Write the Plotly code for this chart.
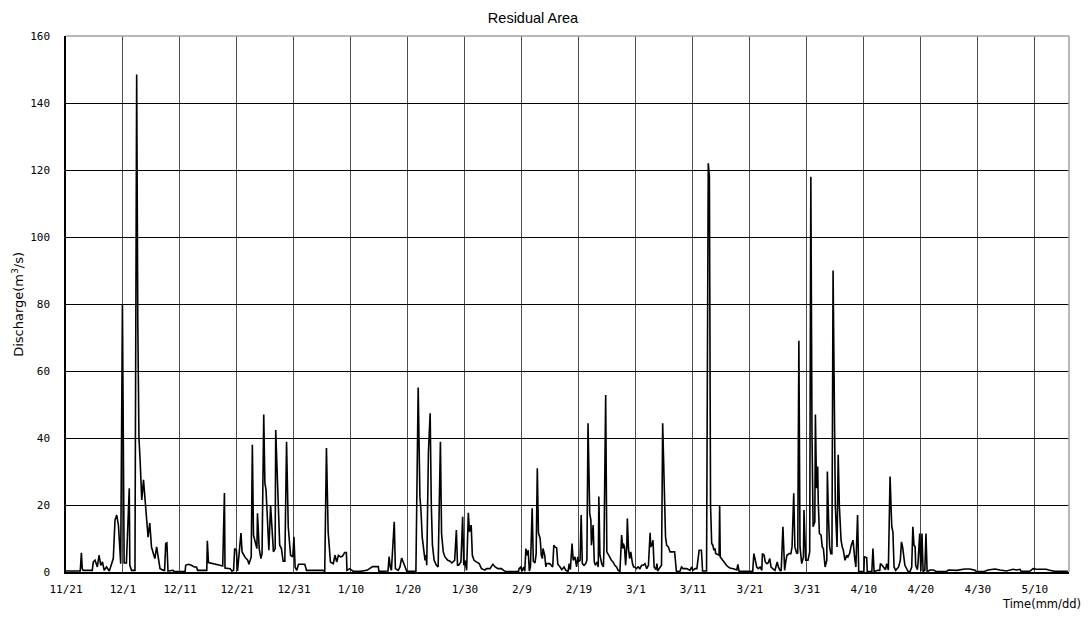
import pandas as pd
import plotly.graph_objects as go

# Hourly-resolution discharge record, given as elapsed days since the start date
start_date = "2010-11-21"

elapsed_days = [
    0.0, 2.5, 2.7, 2.85, 3.0, 4.6, 4.8, 5.1, 5.5, 5.8, 6.1, 6.4, 6.7, 7.1, 7.6, 8.0, 8.3,
    8.6, 8.9, 9.2, 9.4, 9.6, 9.9, 10.2, 10.6, 11.1, 11.2, 11.5, 12.1, 12.4, 12.6, 12.8,
    13.0, 13.3, 13.6, 13.9, 14.2, 14.4, 14.7, 15.0, 15.3, 15.6, 15.9, 16.2, 16.5, 17.1,
    17.3, 17.5, 17.7, 17.9, 18.8, 19.0, 20.9, 21.0, 21.5, 22.0, 22.5, 22.9, 23.1, 24.7,
    24.8, 25.0, 26.0, 27.0, 27.5, 27.8, 27.9, 28.8, 29.1, 29.4, 29.6, 29.9, 30.1, 30.4,
    30.7, 30.9, 31.4, 31.9, 32.1, 32.5, 32.7, 32.9, 33.2, 33.5, 33.6, 33.9, 34.2, 34.4,
    34.7, 34.9, 35.1, 35.4, 35.6, 35.9, 36.1, 36.4, 36.7, 36.8, 37.1, 37.3, 37.5, 37.8,
    38.1, 38.4, 38.7, 39.0, 39.2, 39.4, 39.8, 40.0, 40.2, 40.5, 40.8, 41.9, 42.2, 45.1,
    45.4, 45.7, 46.0, 46.1, 46.4, 46.9, 47.2, 47.5, 47.8, 48.2, 48.5, 48.9, 49.2, 49.3,
    49.8, 50.4, 51.6, 52.8, 53.3, 53.8, 54.8, 54.9, 56.5, 56.7, 56.9, 57.1, 57.6, 57.8,
    58.3, 58.6, 58.9, 59.2, 59.5, 59.8, 61.4, 61.8, 62.1, 62.3, 62.5, 62.8, 63.0, 63.2,
    63.3, 63.6, 63.9, 64.1, 64.3, 64.6, 65.0, 65.3, 65.7, 65.9, 66.2, 66.5, 67.0, 67.4,
    67.7, 68.2, 68.5, 68.7, 68.9, 69.3, 69.6, 69.8, 70.0, 70.3, 70.6, 70.8, 71.1, 71.3,
    71.6, 72.0, 72.5, 72.9, 73.5, 73.8, 74.4, 74.9, 75.3, 75.8, 76.4, 76.8, 77.2, 79.4,
    79.5, 79.8, 80.0, 80.3, 80.5, 80.7, 80.9, 81.1, 81.3, 81.5, 81.8, 82.0, 82.3, 82.5,
    82.7, 82.9, 83.2, 83.4, 83.6, 83.7, 84.0, 84.2, 84.3, 84.9, 85.4, 85.6, 85.8, 86.1,
    86.3, 86.7, 87.0, 87.4, 87.7, 88.1, 88.3, 88.5, 88.8, 89.0, 89.3, 89.6, 89.8, 89.9,
    90.2, 90.4, 90.6, 90.9, 91.2, 91.4, 91.6, 91.9, 92.1, 92.2, 92.5, 92.7, 92.9, 93.2,
    93.4, 93.5, 93.7, 94.0, 94.3, 94.4, 94.7, 94.9, 95.1, 95.4, 95.7, 96.0, 96.3, 96.6,
    96.9, 97.2, 97.5, 97.7, 97.8, 98.0, 98.2, 98.4, 98.5, 98.7, 98.9, 99.1, 99.4, 99.6,
    99.8, 100.1, 100.4, 100.7, 101.0, 101.3, 101.6, 101.9, 102.2, 102.5, 102.6, 102.8,
    103.0, 103.2, 103.5, 103.7, 103.8, 104.2, 104.5, 104.7, 105.0, 105.2, 105.4, 105.7,
    106.0, 106.8, 107.1, 107.7, 108.0, 108.3, 108.9, 109.5, 109.8, 110.0, 110.4, 110.7,
    111.1, 111.5, 111.7, 112.4, 112.7, 112.9, 113.1, 113.3, 113.5, 113.7, 113.9, 114.0,
    114.6, 114.7, 114.8, 115.0, 115.3, 115.6, 115.9, 116.2, 116.5, 117.1, 117.7, 117.9,
    118.1, 120.5, 120.7, 120.9, 121.2, 121.5, 121.8, 122.1, 122.2, 122.5, 122.7, 123.0,
    123.2, 123.5, 123.7, 124.0, 124.4, 124.8, 125.0, 125.3, 125.5, 125.8, 126.1, 126.3,
    126.5, 126.9, 127.2, 127.4, 127.7, 127.9, 128.2, 128.4, 128.6, 128.8, 129.1, 129.4,
    129.5, 129.8, 130.2, 130.5, 130.7, 130.9, 131.1, 131.4, 131.5, 131.7, 131.9, 132.0,
    132.2, 132.5, 132.7, 132.9, 133.2, 133.5, 133.6, 133.8, 134.0, 134.2, 134.4, 134.6,
    134.8, 135.0, 135.3, 135.5, 135.7, 136.0, 136.2, 136.4, 136.7, 137.0, 137.2, 137.5,
    137.8, 138.1, 138.4, 138.6, 138.9, 139.1, 140.0, 140.1, 140.5, 140.6, 141.4, 141.6,
    141.8, 142.4, 142.8, 142.9, 143.2, 143.5, 143.8, 144.0, 144.3, 144.6, 144.9, 145.1,
    145.3, 145.6, 146.1, 146.4, 146.6, 146.8, 147.0, 147.2, 147.6, 147.8, 148.1, 148.4,
    148.6, 148.8, 149.0, 149.1, 149.4, 149.5, 149.8, 150.0, 150.2, 150.4, 150.7, 150.9,
    151.1, 151.6, 152.2, 152.8, 154.5, 154.8, 156.3, 157.7, 158.6, 159.5, 159.8, 161.0,
    161.8, 163.0, 163.9, 165.0, 166.2, 166.8, 167.4, 167.6, 169.1, 169.7, 170.3, 170.9,
    172.0, 172.6, 173.5, 175.8,
]

discharge = [
    0.3, 0.3, 5.7, 1.0, 0.5, 0.5, 3.0, 3.5, 1.5, 5.0, 2.0, 3.0, 0.5, 1.5, 0.3, 2.5, 4.0,
    15.5, 17.0, 14.0, 5.7, 2.5, 80.0, 2.7, 2.7, 25.0, 2.0, 0.5, 0.5, 148.5, 74.0, 40.0,
    33.4, 21.5, 27.5, 20.0, 15.5, 10.4, 14.6, 7.5, 5.7, 4.0, 7.5, 3.5, 1.0, 0.5,
    0.5, 8.5, 8.7, 0.3, 0.5, 0.1, 0.1, 2.0, 2.3, 2.0, 1.5, 1.5, 0.5, 0.5,
    9.3, 2.8, 2.5, 2.0, 1.8, 23.6, 1.2, 1.0, 0.3, 0.5, 7.0, 6.5, 0.3, 6.5,
    11.6, 6.0, 4.5, 3.5, 2.3, 4.5, 38.0, 11.0, 9.0, 7.0, 17.5, 7.0, 4.0, 5.5,
    47.0, 26.5, 24.5, 10.5, 6.5, 20.0, 13.5, 6.0, 7.0, 42.4, 27.5, 14.0, 8.0, 7.0,
    3.2, 3.2, 38.9, 13.5, 9.0, 5.0, 4.5, 10.5, 1.5, 0.5, 2.3, 2.3, 0.5, 0.5,
    0.2, 37.0, 12.0, 10.0, 3.0, 2.5, 5.0, 3.0, 5.0, 4.5, 4.7, 5.8, 5.8, 0.5,
    1.0, 0.2, 0.2, 0.5, 1.0, 1.6, 1.6, 0.2, 0.3, 4.6, 1.5, 0.5, 15.0, 1.0,
    0.5, 1.5, 4.2, 3.0, 1.3, 0.2, 0.2, 55.1, 22.5, 18.0, 10.5, 5.5, 3.5, 5.0,
    2.0, 36.0, 47.4, 20.0, 8.0, 3.5, 2.0, 1.5, 38.9, 11.5, 6.0, 4.5, 3.5, 3.2,
    2.7, 3.5, 12.5, 2.0, 2.0, 3.0, 16.5, 2.0, 3.5, 0.5, 17.7, 12.0, 14.0, 5.0,
    3.5, 3.0, 2.5, 1.0, 0.6, 1.0, 1.0, 2.3, 1.5, 1.0, 1.0, 0.5, 0.1, 0.1,
    1.0, 1.5, 0.2, 1.5, 0.2, 7.0, 5.0, 6.5, 0.3, 1.5, 19.0, 3.2, 2.7, 5.5,
    31.0, 11.7, 10.0, 5.0, 4.0, 7.0, 5.0, 1.5, 2.5, 2.5, 1.5, 8.0, 7.5, 7.2,
    2.3, 1.5, 0.7, 1.5, 0.5, 0.2, 2.5, 0.7, 8.5, 3.5, 4.5, 1.5, 4.5, 3.0,
    3.5, 17.0, 2.5, 2.0, 2.5, 3.5, 44.4, 17.5, 15.5, 8.0, 14.0, 3.0, 2.0, 3.0,
    1.5, 22.5, 5.0, 2.5, 1.5, 7.0, 52.8, 6.0, 5.5, 4.5, 3.5, 3.0, 2.0, 1.5,
    0.5, 0.2, 11.0, 7.0, 8.5, 7.5, 2.0, 7.5, 16.0, 7.0, 4.0, 6.0, 2.5, 1.5,
    1.5, 1.0, 1.5, 1.0, 2.0, 2.0, 2.5, 1.0, 2.0, 11.7, 7.5, 8.0,
    9.5, 1.5, 0.7, 2.5, 0.3, 1.5, 2.0, 44.4, 20.0, 10.5, 8.0, 7.5,
    6.0, 6.0, 0.3, 0.1, 1.5, 1.0, 1.0, 0.5, 1.5, 0.5, 1.0, 1.0,
    6.5, 6.5, 0.3, 0.3, 122.0, 118.0, 20.0, 8.5, 8.0, 6.5, 7.0, 5.5,
    5.0, 20.0, 4.5, 4.0, 3.5, 2.5, 2.0, 1.5, 1.2, 1.0, 0.6, 2.3,
    0.2, 0.2, 5.5, 4.0, 1.5, 1.0, 1.5, 0.5, 5.5, 5.0, 3.0, 2.5,
    2.7, 4.0, 1.5, 1.0, 0.5, 3.0, 1.5, 0.5, 0.5, 13.5, 0.5, 3.0,
    5.0, 5.5, 5.5, 7.5, 23.5, 7.5, 5.7, 5.5, 69.0, 7.5, 2.5, 4.5,
    18.5, 3.5, 3.5, 6.0, 118.0, 41.5, 13.5, 15.0, 47.0, 25.0, 31.5, 21.0,
    11.5, 11.0, 7.5, 7.0, 1.5, 3.5, 30.0, 16.0, 7.5, 5.5, 5.5, 90.0,
    57.0, 19.5, 7.5, 35.0, 20.0, 9.5, 7.5, 6.5, 3.5, 5.0, 4.5, 5.5,
    8.0, 9.5, 4.0, 1.5, 17.0, 0.1, 0.1, 4.5, 4.3, 0.1, 0.1, 7.0,
    0.1, 0.5, 0.5, 2.5, 2.0, 1.5, 0.7, 2.5, 0.6, 28.5, 13.5, 12.0,
    1.5, 0.5, 1.5, 3.5, 9.0, 7.5, 4.0, 2.0, 0.7, 0.1, 0.1, 1.5,
    13.5, 8.0, 7.5, 2.0, 0.7, 2.5, 11.5, 0.2, 11.5, 0.2, 0.5, 11.5,
    0.1, 0.6, 0.6, 0.1, 0.1, 0.6, 0.5, 0.9, 0.9, 0.5, 0.1, 0.1,
    0.6, 0.9, 0.6, 0.3, 0.8, 0.6, 0.8, 0.2, 0.2, 1.0, 0.8, 0.8,
    0.8, 0.5, 0.2, 0.2,
]

# Axis ticks every ten days
tick_step_days = 10
tick_labels = ["11/21", "12/1", "12/11", "12/21", "12/31", "1/10", "1/20", "1/30",
               "2/9", "2/19", "3/1", "3/11", "3/21", "3/31", "4/10", "4/20", "4/30", "5/10"]
y_ticks = [0, 20, 40, 60, 80, 100, 120, 140, 160]

t0 = pd.Timestamp(start_date)
times = t0 + pd.to_timedelta(elapsed_days, unit="D")
tick_vals = [t0 + pd.Timedelta(days=tick_step_days * i) for i in range(len(tick_labels))]
x_end = t0 + pd.Timedelta(days=176)

tick_font = "DejaVu Sans Mono, monospace"
label_font = "DejaVu Sans, sans-serif"
title_font = "Liberation Sans, Arial, sans-serif"

fig = go.Figure()
fig.add_trace(go.Scatter(
    x=times, y=discharge, mode="lines",
    line=dict(color="#000000", width=1.6),
    hoverinfo="x+y", showlegend=False,
))

fig.update_layout(
    width=1090, height=624,
    margin=dict(l=66, r=21, t=36, b=52),
    paper_bgcolor="white", plot_bgcolor="white",
    title=dict(text="Residual Area", xref="container", x=0.489, xanchor="center",
               yref="container", y=0.971, yanchor="middle",
               font=dict(family=title_font, size=14.5, color="#000000")),
)

fig.update_xaxes(
    range=[t0, x_end], automargin=False,
    tickmode="array", tickvals=tick_vals, ticktext=tick_labels,
    showgrid=True, gridcolor="#4d4d4d", gridwidth=1,
    showline=True, linecolor="#000000", linewidth=1.5,
    ticks="", ticklabelstandoff=6,
    tickfont=dict(family=tick_font, size=11, color="#000000"),
    zeroline=False,
)
fig.update_yaxes(
    range=[0, 160], automargin=False,
    tickmode="array", tickvals=y_ticks,
    showgrid=True, gridcolor="#000000", gridwidth=1,
    showline=True, linecolor="#000000", linewidth=1.5,
    ticks="", ticklabelstandoff=12,
    tickfont=dict(family=tick_font, size=11, color="#000000"),
    zeroline=False,
)

# Light frame on the top and right edges of the plotting area
fig.add_shape(type="line", xref="paper", yref="paper", x0=0, x1=1, y0=1, y1=1,
              line=dict(color="#a0a0a0", width=1.5))
fig.add_shape(type="line", xref="paper", yref="paper", x0=1, x1=1, y0=0, y1=1,
              line=dict(color="#a0a0a0", width=1.5))

# Axis titles
fig.add_annotation(text="Discharge(m<sup>3</sup>/s)", xref="paper", yref="paper",
                   x=-0.048, y=0.5, xanchor="center", yanchor="middle", textangle=-90,
                   showarrow=False, font=dict(family=label_font, size=13, color="#000000"))
fig.add_annotation(text="Time(mm/dd)", xref="paper", yref="paper",
                   x=1.014, y=-0.06, xanchor="right", yanchor="middle",
                   showarrow=False, font=dict(family=label_font, size=11.5, color="#000000"))

fig.write_html("out.html")
